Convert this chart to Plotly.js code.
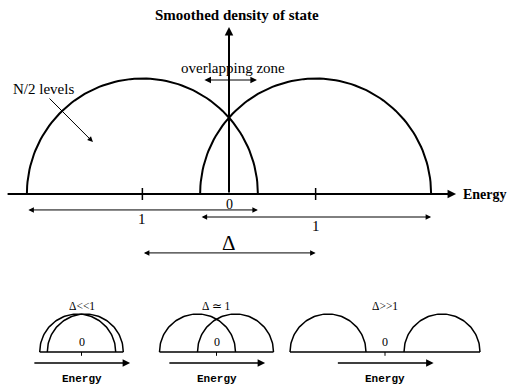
<!DOCTYPE html>
<html>
<head>
<meta charset="utf-8">
<script src="https://cdn.plot.ly/plotly-3.0.1.min.js"></script>
<style>
  html, body { margin: 0; padding: 0; background: #fff; }
  #dos { width: 510px; height: 385px; }
</style>
</head>
<body>
<div id="dos"></div>
<script>
// main sketch: two bands of width 1, centred at -delta/2 and +delta/2
var bandWidth = 1;
var mainDelta = 0.75;
var bandTickLabels = ['1', '1'];
var zeroLabel = '0';
var deltaLabel = 'Δ';
var yTitle = 'Smoothed density of state';
var xTitle = 'Energy';
var bandNote = 'N/2 levels';
var overlapNote = 'overlapping zone';

// the three small cases underneath
var caseLabels = ['Δ<<1', 'Δ \u2243 1', 'Δ>>1'];
var caseDeltas = [0.1, 0.5, 1.5];
var caseAxisLabel = 'Energy';

var W = 510, H = 385;
var serif = '"Liberation Serif", "Times New Roman", serif';
var mono = '"Liberation Mono", "Courier New", monospace';

// axis ranges so that (x0,y0) in pixels is the origin and k pixels make one unit
function frame(x0, y0, k) {
  return { x: [-x0 / k, (W - x0) / k], y: [-(H - y0) / k, y0 / k] };
}

function halfDisc(c, r, xa, ya, w) {
  var xs = [], ys = [];
  for (var i = 0; i <= 90; i++) {
    var t = Math.PI * i / 90;
    xs.push(c + r * Math.cos(t));
    ys.push(r * Math.sin(t));
  }
  return {
    x: xs, y: ys, xaxis: xa, yaxis: ya, mode: 'lines',
    line: { color: 'black', width: w },
    hoverinfo: 'skip', showlegend: false, cliponaxis: false
  };
}

function arrow(x1, y1, x2, y2, xa, ya, w, size, both) {
  return {
    xref: xa, yref: ya, axref: xa, ayref: ya,
    x: x2, y: y2, ax: x1, ay: y1,
    text: '', showarrow: true,
    arrowhead: 2, startarrowhead: 2,
    arrowside: both ? 'end+start' : 'end',
    arrowwidth: w, arrowsize: size, startarrowsize: size,
    arrowcolor: 'black', standoff: 0, startstandoff: 0
  };
}

function label(text, x, y, xa, ya, font, anchor) {
  return {
    xref: xa, yref: ya, x: x, y: y, text: text, showarrow: false,
    font: font, xanchor: anchor || 'center', yanchor: 'middle'
  };
}

function segment(x0, y0, x1, y1, xa, ya, w) {
  return { type: 'line', xref: xa, yref: ya, x0: x0, y0: y0, x1: x1, y1: y1,
           line: { color: 'black', width: w } };
}

var data = [], annotations = [], shapes = [];

// ---- main sketch ----
var r = bandWidth / 2;
var centres = [-mainDelta / 2, mainDelta / 2];
centres.forEach(function (c) { data.push(halfDisc(c, r, 'x', 'y', 2)); });

annotations.push(arrow(-0.965, 0, 0.983, 0, 'x', 'y', 2, 0.85, false));
annotations.push(arrow(0, 0, 0, 0.723, 'x', 'y', 2, 0.85, false));
annotations.push(label('<b>' + yTitle + '</b>', 0.035, 0.775, 'x', 'y', { family: serif, size: 15, color: 'black' }));
annotations.push(label('<b>' + xTitle + '</b>', 1.004, 0, 'x', 'y', { family: serif, size: 14, color: 'black' }, 'left'));

centres.forEach(function (c, i) {
  shapes.push(segment(c, -0.026, c, 0.026, 'x', 'y', 1.5));
  var yRow = i === 0 ? -0.069 : -0.0996;
  annotations.push(arrow(c - r, yRow, c + r, yRow, 'x', 'y', 1, 1.1, true));
  annotations.push(label(bandTickLabels[i], c, yRow - 0.039, 'x', 'y', { family: serif, size: 15, color: 'black' }));
});
annotations.push(label(zeroLabel, 0, -0.045, 'x', 'y', { family: serif, size: 14, color: 'black' }));
annotations.push(label(deltaLabel, 0, -0.212, 'x', 'y', { family: serif, size: 21, color: 'black' }));
annotations.push(arrow(centres[0], -0.255, centres[1], -0.255, 'x', 'y', 1, 1.1, true));

annotations.push(arrow(centres[1] - r + 0.012, 0.4935, centres[0] + r - 0.004, 0.4935, 'x', 'y', 1.2, 1.1, true));
annotations.push(label(overlapNote, 0.017, 0.545, 'x', 'y', { family: serif, size: 15, color: 'black' }));
annotations.push(label(bandNote, -0.805, 0.4545, 'x', 'y', { family: serif, size: 15, color: 'black' }));
annotations.push(arrow(-0.7835, 0.42, -0.589, 0.225, 'x', 'y', 1, 1.1, false));

var mainFrame = frame(229, 194, 231);
var layout = {
  width: W, height: H,
  margin: { l: 0, r: 0, t: 0, b: 0, pad: 0 },
  paper_bgcolor: 'white', plot_bgcolor: 'rgba(0,0,0,0)',
  showlegend: false,
  xaxis: { range: mainFrame.x, visible: false, fixedrange: true },
  yaxis: { range: mainFrame.y, visible: false, fixedrange: true }
};

// ---- small cases ----
var caseOrigins = [81.5, 216.5, 385];
caseDeltas.forEach(function (d, i) {
  var n = i + 2, xa = 'x' + n, ya = 'y' + n;
  var f = frame(caseOrigins[i], 352, 76);
  layout['xaxis' + n] = { range: f.x, visible: false, overlaying: 'x', fixedrange: true };
  layout['yaxis' + n] = { range: f.y, visible: false, overlaying: 'y', fixedrange: true };

  data.push(halfDisc(-d / 2, 0.5, xa, ya, 1.5));
  data.push(halfDisc(d / 2, 0.5, xa, ya, 1.5));
  shapes.push(segment(-d / 2 - 0.5, 0, d / 2 + 0.5, 0, xa, ya, 1.5));
  shapes.push(segment(0, 0, 0, -0.05, xa, ya, 1));
  annotations.push(label(zeroLabel, 0, 0.13, xa, ya, { family: serif, size: 12, color: 'black' }));
  annotations.push(label(caseLabels[i], 0, 0.605, xa, ya, { family: serif, size: 11.5, color: 'black' }));
  annotations.push(arrow(-0.64, -0.145, 0.64, -0.145, xa, ya, 1.5, 1.0, false));
  annotations.push(label('<b>' + caseAxisLabel + '</b>', 0, -0.355, xa, ya, { family: mono, size: 11, color: 'black' }));
});

layout.annotations = annotations;
layout.shapes = shapes;

Plotly.newPlot('dos', data, layout, { displayModeBar: false, staticPlot: true });
</script>
</body>
</html>
